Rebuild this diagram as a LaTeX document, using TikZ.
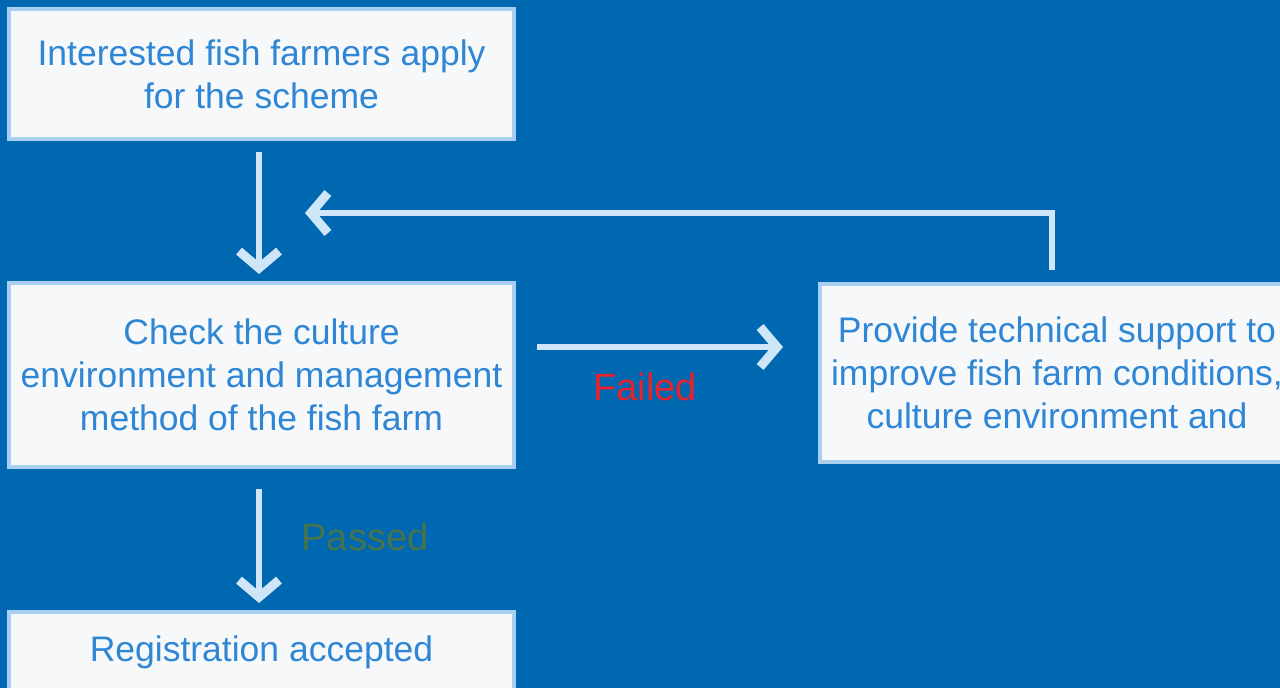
\documentclass[tikz,border=0pt]{standalone}
\usepackage{fontspec}
\setmainfont{Liberation Sans}
\usetikzlibrary{arrows.meta,positioning,calc}
\definecolor{bgblue}{HTML}{0067B1}
\definecolor{boxfill}{HTML}{F6F8FA}
\definecolor{boxline}{HTML}{A9CFF0}
\definecolor{txtblue}{HTML}{2F86D5}
\definecolor{arrcol}{HTML}{CFE5F8}
\definecolor{failred}{HTML}{E8222C}
\definecolor{passgreen}{HTML}{46744C}
\begin{document}
\begin{tikzpicture}[x=1pt,y=-1pt,
  box/.style={draw=boxline, line width=4pt, fill=boxfill, text=txtblue,
    align=center, inner sep=0pt, font=\fontsize{35.5}{43}\selectfont},
  arr/.style={draw=arrcol, line width=6.5pt,
    -{Straight Barb[length=17pt,width=40pt,line width=9pt]}},
  lbl/.style={font=\fontsize{38}{44}\selectfont}]
\useasboundingbox (0,0) rectangle (1280,688);
\fill[bgblue] (0,0) rectangle (1280,688);
\node[box, minimum width=505pt, minimum height=130pt] (b1) at (261.5,74)
  {Interested fish farmers apply\\for the scheme};
\node[box, minimum width=505pt, minimum height=184pt] (b2) at (261.5,375)
  {Check the culture\\environment and management\\method of the fish farm};
\node[box, minimum width=474pt, minimum height=178pt] (b3) at (1057,373)
  {Provide technical support to\\improve fish farm conditions,\\culture environment and};
\node[box, minimum width=505pt, minimum height=80pt] (b4) at (261.5,652)
  {Registration accepted};
\coordinate (fb) at (305,213);
\draw[arr, shorten <=11pt, shorten >=7pt] ([xshift=-2.5pt]b1.south) -- ([xshift=-2.5pt]b2.north);
\draw[arr, shorten <=21pt, shorten >=35pt] ([yshift=28pt]b2.east) -- ([yshift=28pt]b2.east -| b3.west);
\draw[arr, shorten <=20pt, shorten >=7pt] ([xshift=-2.5pt]b2.south) -- ([xshift=-2.5pt]b4.north);
\draw[arr, shorten <=12pt] ([xshift=-5pt]b3.north) |- (fb);
\node[lbl, text=failred] (lf) at (645,387) {Failed};
\node[lbl, text=passgreen] (lp) at (365,537) {Passed};
\end{tikzpicture}
\end{document}
